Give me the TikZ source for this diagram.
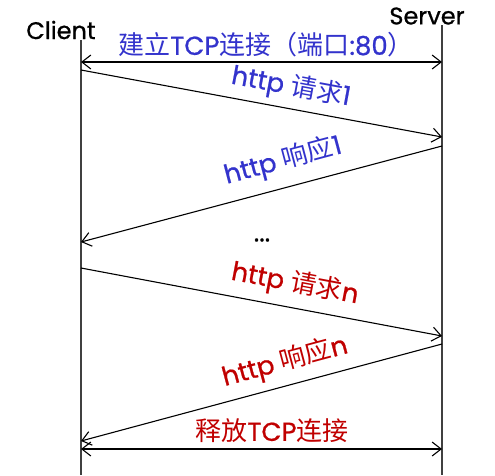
\documentclass[tikz,border=0pt]{standalone}
\usepackage{fontspec}
\setmainfont{Poppins}[FakeBold=0.8]
\newfontfamily\cjk{Noto Sans CJK SC}
\usetikzlibrary{arrows.meta}
\definecolor{lblue}{RGB}{51,51,204}
\definecolor{lred}{RGB}{192,0,0}
\tikzset{
  lifeline/.style={draw=black!75, line width=1.2pt},
  msg/.style={draw=black, line width=1.1pt, -{Straight Barb[length=9pt,width=14pt,line width=1.1pt]}},
  dmsg/.style={draw=black, line width=1.1pt, {Straight Barb[length=9pt,width=14pt,line width=1.1pt]}-{Straight Barb[length=9pt,width=14pt,line width=1.1pt]}},
  role/.style={font=\fontsize{24}{28}\selectfont, text=black, inner sep=0pt},
  bluelbl/.style={font=\fontsize{26}{30}\selectfont, text=lblue, inner sep=0pt},
  redlbl/.style={font=\fontsize{26}{30}\selectfont, text=lred, inner sep=0pt},
}
\begin{document}
\begin{tikzpicture}[x=1pt,y=-1pt]
\useasboundingbox (0,0) rectangle (495,475);
% roles
\node[role] (client) at (61,30) {Client};
\node[role] (server) at (427,16) {Server};
% lifeline endpoints
\coordinate (ctop) at (81,40);
\coordinate (cbot) at (81,475);
\coordinate (stop) at (442,25);
\coordinate (sbot) at (442,475);
\draw[lifeline] (ctop) -- (cbot);
\draw[lifeline] (stop) -- (sbot);
% message endpoints
\coordinate (c1) at (81,62);   \coordinate (s1) at (442,62);
\coordinate (c2) at (81,70);   \coordinate (s2) at (442,137);
\coordinate (s3) at (442,146); \coordinate (c3) at (81,242);
\coordinate (c4) at (81,268);  \coordinate (s4) at (442,336);
\coordinate (s5) at (442,344); \coordinate (c5) at (81,441);
\coordinate (c6) at (81,449);  \coordinate (s6) at (442,449);
% messages
\draw[dmsg] (c1) -- (s1);
\draw[msg] (c2) -- (s2);
\draw[msg] (s3) -- (c3);
\draw[msg] (c4) -- (s4);
\draw[msg] (s5) -- (c5);
\draw[dmsg] (c6) -- (s6);
% labels
\node[bluelbl] (l1) at (266,45) {{\cjk 建立}TCP{\cjk 连接（端口}:80{\cjk ）}};
\node[bluelbl, rotate=-10.5] (l2) at (291,87) {http {\cjk 请求}1};
\node[bluelbl, rotate=14.9] (l3) at (283,161) {http {\cjk 响应}1};
\node[font=\fontsize{26}{30}\selectfont, inner sep=0pt] (dots) at (262,240) {...};
\node[redlbl, rotate=-10.7] (l4) at (295,284) {http {\cjk 请求}n};
\node[redlbl, rotate=15] (l5) at (285,362) {http {\cjk 响应}n};
\node[redlbl] (l6) at (272,431) {{\cjk 释放}TCP{\cjk 连接}};
\end{tikzpicture}
\end{document}
